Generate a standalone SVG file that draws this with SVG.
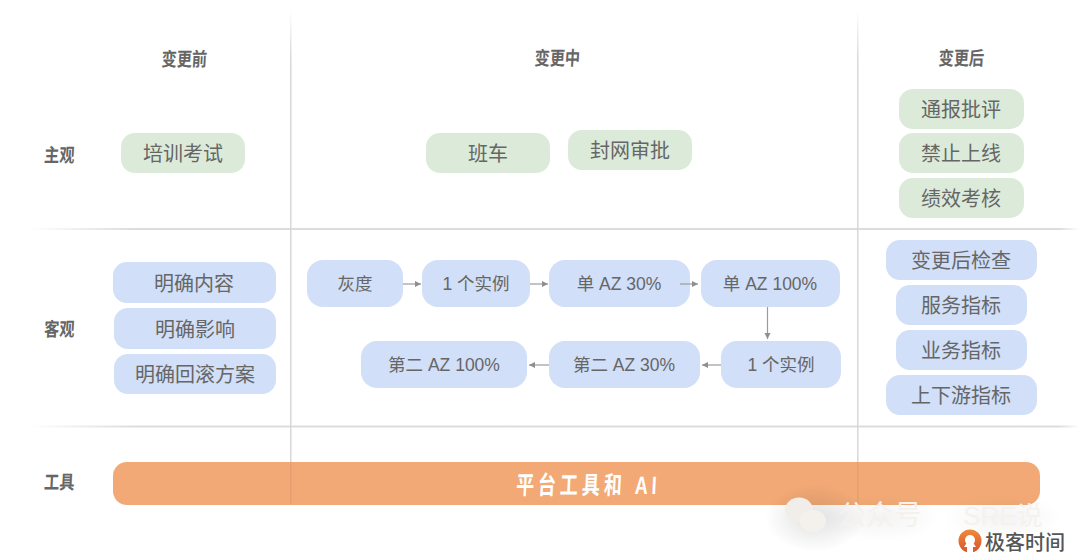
<svg xmlns="http://www.w3.org/2000/svg" width="1080" height="559" viewBox="0 0 1080 559">
<defs>
<linearGradient id="hf" gradientUnits="userSpaceOnUse" x1="30" y1="0" x2="1080" y2="0"><stop offset="0" stop-color="#dcdcdc" stop-opacity="0"/><stop offset="0.1" stop-color="#dcdcdc"/><stop offset="0.98" stop-color="#dcdcdc"/><stop offset="1" stop-color="#dcdcdc" stop-opacity="0"/></linearGradient>
<linearGradient id="vf" gradientUnits="userSpaceOnUse" x1="0" y1="10" x2="0" y2="506"><stop offset="0" stop-color="#d8d8d8" stop-opacity="0"/><stop offset="0.1" stop-color="#d8d8d8"/><stop offset="1" stop-color="#d8d8d8"/></linearGradient>
<linearGradient id="logo" x1="0" y1="0" x2="0" y2="1"><stop offset="0" stop-color="#ee8a3c"/><stop offset="1" stop-color="#d9542b"/></linearGradient>
<radialGradient id="shade"><stop offset="0" stop-color="#000" stop-opacity=".12"/><stop offset="1" stop-color="#000" stop-opacity="0"/></radialGradient>
<marker id="ah" markerWidth="8" markerHeight="8" refX="6" refY="3" orient="auto" markerUnits="userSpaceOnUse"><path d="M0 0L6 3L0 6Z" fill="#8f8f8f"/></marker>
</defs>
<style>
text{font-family:"Liberation Sans","Noto Sans CJK SC",sans-serif;text-anchor:middle}
.g{fill:#dcebd9}.b{fill:#d1dff8}
.t{font-size:20px;fill:#666}
.f{font-size:17.5px;fill:#666}
.h{font-size:19px;font-weight:700;fill:#666}
.c{stroke:#9b9b9b;stroke-width:1.2;fill:none;marker-end:url(#ah)}
</style>
<rect width="1080" height="559" fill="#fff"/>
<g id="grid">
<rect x="30" y="228" width="1050" height="2" fill="url(#hf)"/>
<rect x="30" y="425.500" width="1050" height="2" fill="url(#hf)"/>
<rect x="290" y="10" width="1.500" height="494" fill="url(#vf)"/>
<rect x="857" y="10" width="1.500" height="494" fill="url(#vf)"/>
</g>
<g id="headers">
<text class="h" transform="translate(184 66) scale(.8 1) skewX(-4)">变更前</text>
<text class="h" transform="translate(557 65) scale(.8 1) skewX(-4)">变更中</text>
<text class="h" transform="translate(961 65) scale(.8 1) skewX(-4)">变更后</text>
<text class="h" transform="translate(59 162) scale(.8 1) skewX(-4)">主观</text>
<text class="h" transform="translate(59 336) scale(.8 1) skewX(-4)">客观</text>
<text class="h" transform="translate(59 489) scale(.8 1) skewX(-4)">工具</text>
</g>
<g id="n-train"><rect class="g" x="121" y="133" width="124" height="40" rx="14"/><text class="t" x="183" y="161">培训考试</text></g>
<g id="n-bus"><rect class="g" x="426" y="133" width="124" height="40" rx="14"/><text class="t" x="488" y="161">班车</text></g>
<g id="n-freeze"><rect class="g" x="568" y="130" width="124" height="40" rx="14"/><text class="t" x="630" y="158">封网审批</text></g>
<g id="n-notice"><rect class="g" x="899" y="89" width="125" height="40" rx="14"/><text class="t" x="961" y="117">通报批评</text></g>
<g id="n-ban"><rect class="g" x="899" y="133" width="125" height="40" rx="14"/><text class="t" x="961" y="161">禁止上线</text></g>
<g id="n-perf"><rect class="g" x="899" y="178" width="125" height="40" rx="14"/><text class="t" x="961" y="206">绩效考核</text></g>
<g id="n-content"><rect class="b" x="113" y="262" width="163" height="41" rx="14"/><text class="t" x="194" y="291">明确内容</text></g>
<g id="n-impact"><rect class="b" x="114" y="308" width="162" height="41" rx="14"/><text class="t" x="195" y="337">明确影响</text></g>
<g id="n-rollback"><rect class="b" x="114" y="354" width="162" height="40" rx="14"/><text class="t" x="195" y="382">明确回滚方案</text></g>
<g id="n-check"><rect class="b" x="886" y="240" width="151" height="40" rx="14"/><text class="t" x="961" y="268">变更后检查</text></g>
<g id="n-svc"><rect class="b" x="896" y="285" width="131" height="40" rx="14"/><text class="t" x="961" y="313">服务指标</text></g>
<g id="n-biz"><rect class="b" x="896" y="330" width="131" height="40" rx="14"/><text class="t" x="961" y="358">业务指标</text></g>
<g id="n-updown"><rect class="b" x="886" y="375" width="151" height="40" rx="14"/><text class="t" x="961" y="403">上下游指标</text></g>
<g id="n-gray"><rect class="b" x="307" y="260" width="96" height="47" rx="16"/><text class="f" x="355" y="290">灰度</text></g>
<g id="n-inst1"><rect class="b" x="422" y="260" width="108" height="47" rx="16"/><text class="f" x="476" y="290">1 个实例</text></g>
<g id="n-az30"><rect class="b" x="549" y="260" width="141" height="47" rx="16"/><text class="f" x="619" y="290">单 AZ 30%</text></g>
<g id="n-az100"><rect class="b" x="701" y="260" width="139" height="47" rx="16"/><text class="f" x="770" y="290">单 AZ 100%</text></g>
<g id="n-inst2"><rect class="b" x="721" y="341" width="120" height="47" rx="16"/><text class="f" x="781" y="371">1 个实例</text></g>
<g id="n-az2-30"><rect class="b" x="549" y="341" width="151" height="47" rx="16"/><text class="f" x="624" y="371">第二 AZ 30%</text></g>
<g id="n-az2-100"><rect class="b" x="361" y="341" width="166" height="47" rx="16"/><text class="f" x="444" y="371">第二 AZ 100%</text></g>
<g id="connectors">
<path class="c" d="M403 284H421"/>
<path class="c" d="M530 284H548"/>
<path class="c" d="M680 284H698"/>
<path class="c" d="M767.500 307V339"/>
<path class="c" d="M721 365H702"/>
<path class="c" d="M549 365H529"/>
</g>
<g id="n-platform"><rect x="113" y="462" width="927" height="43" rx="14" fill="#f2a975"/>
<rect x="290" y="462" width="1.500" height="42" fill="#dd9a6c" opacity=".6"/><rect x="857" y="462" width="1.500" height="42" fill="#dd9a6c" opacity=".6"/>
<text transform="translate(588 494) scale(.72 1) skewX(-4)" style="font-size:25px;font-weight:700;fill:#fff;letter-spacing:5.500px">平台工具和 AI</text></g>
<g id="watermark">
<ellipse cx="815" cy="518" rx="50" ry="34" fill="url(#shade)"/>
<ellipse cx="880" cy="518" rx="60" ry="24" fill="url(#shade)" opacity=".4"/>
<ellipse cx="1003" cy="518" rx="60" ry="24" fill="url(#shade)" opacity=".4"/>
<ellipse cx="799" cy="510" rx="14" ry="12.500" fill="#f1eeea"/>
<ellipse cx="813" cy="521" rx="13" ry="11" fill="#f4f1ed"/>
<text x="880" y="525" style="font-size:28px;fill:#f5f2ee">公众号</text>
<text x="1003" y="525" style="font-size:26px;fill:#f5f2ee">SRE说</text>
</g>
<g id="logo-mark">
<circle cx="970" cy="541" r="11.500" fill="url(#logo)"/><circle cx="970" cy="540" r="5" fill="#fff"/><path d="M970 538L976 547L973 547L973 554L967 554L967 547L964 547Z" fill="#fff"/>
<text x="1025" y="550" style="font-size:20px;font-weight:500;fill:#555">极客时间</text>
</g>
</svg>
